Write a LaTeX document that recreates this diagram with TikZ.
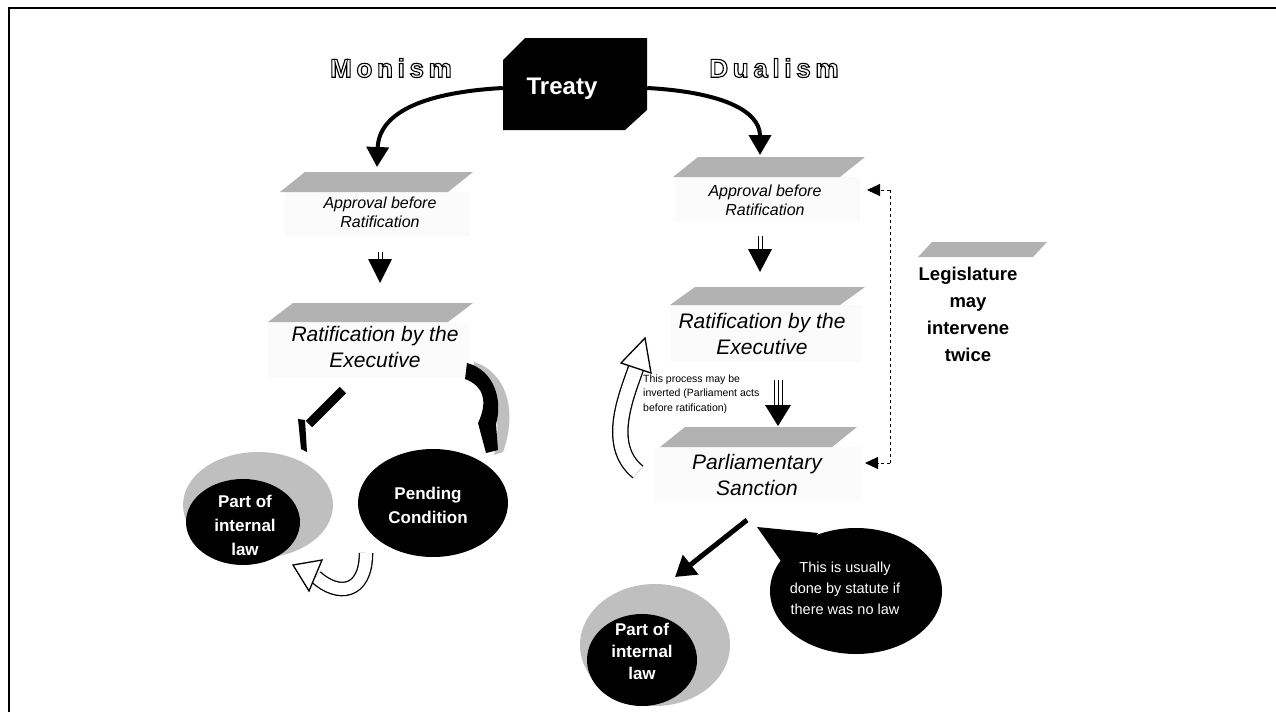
\documentclass[tikz,border=0pt]{standalone}
\usepackage{fontspec}
\setmainfont{Liberation Sans}
\newfontfamily\spacedfont[LetterSpace=18]{Liberation Sans}
\usetikzlibrary{arrows.meta,shapes.geometric}
\newcommand\outlinetxt[1]{\special{pdf:literal direct 1 Tr 1.1 w}#1\special{pdf:literal direct 0 Tr}}
\begin{document}
\begin{tikzpicture}[x=1pt,y=-1pt,
  frame/.style={line width=2pt},
  band/.style={fill=gray!60},
  speck/.style={fill=gray!3},
  smlbl/.style={font=\itshape\fontsize{16}{19}\selectfont, align=center, inner sep=0pt},
  bglbl/.style={font=\itshape\fontsize{21}{25.5}\selectfont, align=center, inner sep=0pt},
  headlbl/.style={font=\spacedfont\bfseries\fontsize{26}{30}\selectfont, inner sep=0pt},
  blob/.style={ellipse, fill=black, inner sep=0pt},
  halo/.style={ellipse, fill=gray!50, inner sep=0pt},
  wtxt/.style={text=white, font=\bfseries\fontsize{17}{24}\selectfont, align=center, inner sep=0pt},
  curvearrow/.style={line width=4pt, -{Triangle[length=20pt,width=22pt]}},
  straightarrow/.style={line width=5pt, -{Triangle[length=20pt,width=24pt]}},
  hollow/.style={double=white, double distance=#1, line width=1.3pt},
  headfill/.style={fill=white, draw=black, line width=1.3pt, line join=miter},
  dashlink/.style={dash pattern=on 3pt off 3pt, line width=1pt},
  smalltip/.style={-{Triangle[length=13pt,width=12pt]}},
]
\useasboundingbox (0,0) rectangle (1276,712);
\draw[frame] (9,712) -- (9,8) -- (1276,8);

% Treaty
\fill (503,60) -- (525,38) -- (647,38) -- (647,110) -- (625,130) -- (503,130) -- cycle;
\node[inner sep=0pt, minimum width=144pt, minimum height=92pt] (treaty) at (575,84) {};
\node[text=white, font=\bfseries\fontsize{24}{28}\selectfont, inner sep=0pt] (treatytxt) at (562,89) {Treaty};

% headings
\node[headlbl] (monism) at (391,68) {\outlinetxt{Monism}};
\node[headlbl] (dualism) at (774,68) {\outlinetxt{Dualism}};

% ---------- Monism side ----------
\fill[speck] (285,192) rectangle (470,236);
\fill[band] (305,172) -- (473,172) -- (448,192) -- (280,192) -- cycle;
\node[smlbl] (appL) at (380,212) {Approval before\\Ratification};

\fill[speck] (268,322) rectangle (470,378);
\fill[band] (293,303) -- (473,303) -- (448,322) -- (268,322) -- cycle;
\node[bglbl] (ratL) at (375,347) {Ratification by the\\Executive};

\coordinate (appLtip) at (377,167);
\draw[curvearrow] ([yshift=-4pt]treaty.west) .. controls (430,92) and (379,110) .. (appLtip);

% double arrow
\draw[line width=0.8pt] (378,252) -- (378,262) (382,252) -- (382,262);
\fill (368,259) -- (392,259) -- (380,283) -- cycle;

% halo + ellipses
\node[halo, minimum width=150pt, minimum height=106pt] (lawLhalo) at (258,505) {};
\node[blob, minimum width=114pt, minimum height=86pt] (lawL) at (243,522) {};
\node[wtxt] (lawLtxt) at (245,525) {Part of\\internal\\law};
\node[blob, minimum width=150pt, minimum height=108pt] (pending) at (433,503) {};
\node[wtxt] (pendtxt) at (428,505) {Pending\\Condition};

% slanted broken arrow
\draw[line width=9pt] (343,390) -- (309,424);
\fill (298,419) -- (305,420) -- (307,452) -- (301,449) -- cycle;

% crescent arrow
\fill[gray!50] (474,362) .. controls (506,372) and (518,410) .. (503,452) -- (494,455) .. controls (502,420) and (496,392) .. (472,378) -- cycle;
\fill (467,363) .. controls (494,370) and (503,400) .. (496,424) -- (498,450) -- (486,453) -- (478,423) .. controls (488,402) and (484,386) .. (465,379) -- cycle;

% hollow U arrow
\draw[hollow=12pt] (366,553) .. controls (366,594) and (338,597) .. (316,577);
\draw[headfill] (293,565) -- (322,560) -- (309,591) -- cycle;

% ---------- Dualism side ----------
\fill[speck] (675,177) rectangle (860,222);
\fill[band] (698,157) -- (865,157) -- (840,177) -- (673,177) -- cycle;
\node[smlbl] (appR) at (765,200) {Approval before\\Ratification};

\coordinate (appRtip) at (760,155);
\draw[curvearrow] ([yshift=-4pt]treaty.east) .. controls (720,92) and (760,110) .. (appRtip);

\draw[line width=0.8pt] (758,236) -- (758,251) (762,236) -- (762,251);
\fill (748,249) -- (772,249) -- (760,272) -- cycle;

\fill[speck] (670,305) rectangle (862,362);
\fill[band] (695,287) -- (865,287) -- (840,305) -- (670,305) -- cycle;
\node[bglbl] (ratR) at (762,334) {Ratification by the\\Executive};

% triple arrow
\draw[line width=0.7pt] (774,380) -- (774,408) (778,380) -- (778,408) (782,380) -- (782,408);
\fill (765,405) -- (791,405) -- (778,426) -- cycle;

\fill[speck] (655,447) rectangle (862,502);
\fill[band] (685,427) -- (857,427) -- (832,447) -- (660,447) -- cycle;
\node[bglbl] (parl) at (757,475) {Parliamentary\\Sanction};

% hollow curved arrow (inversion)
\draw[hollow=14pt] (638,472) .. controls (604,445) and (628,392) .. (636,368);
\draw[headfill] (645,338) -- (651,373) -- (621,363) -- cycle;

\node[font=\fontsize{10.5}{14.5}\selectfont, align=left, anchor=west, inner sep=0pt] (invtxt) at (643,394) {This process may be\\inverted (Parliament acts\\before ratification)};

% legislature
\fill[band] (932,242) -- (1047,242) -- (1033,257) -- (918,257) -- cycle;
\node[font=\bfseries\fontsize{18.5}{27}\selectfont, align=center, inner sep=0pt] (leg) at (968,314) {Legislature\\may\\intervene\\twice};

% dashed link
\coordinate (dtop) at (890,190);
\coordinate (dbot) at (890,463);
\coordinate (apptip) at (867,190);
\coordinate (parltip) at (865,463);
\draw[dashlink] (dtop) -- (dbot);
\draw[dashlink, smalltip] (dtop) -- (apptip);
\draw[dashlink, smalltip] (dbot) -- (parltip);

% bottom
\coordinate (sancOut) at (747,520);
\coordinate (lawRtip) at (675,577);
\draw[straightarrow] (sancOut) -- (lawRtip);

\node[halo, minimum width=150pt, minimum height=122pt] (lawRhalo) at (655,645) {};
\node[blob, minimum width=110pt, minimum height=92pt] (lawR) at (642,660) {};
\node[wtxt, font=\bfseries\fontsize{17}{22}\selectfont] (lawRtxt) at (642,651) {Part of\\internal\\law};

\fill (757,527) -- (818,533) -- (790,574) -- cycle;
\node[blob, minimum width=172pt, minimum height=126pt] (bubble) at (856,591) {};
\node[text=white, font=\fontsize{14.5}{21}\selectfont, align=center, inner sep=0pt] (bubtxt) at (845,588) {This is usually\\done by statute if\\there was no law};

\end{tikzpicture}
\end{document}
